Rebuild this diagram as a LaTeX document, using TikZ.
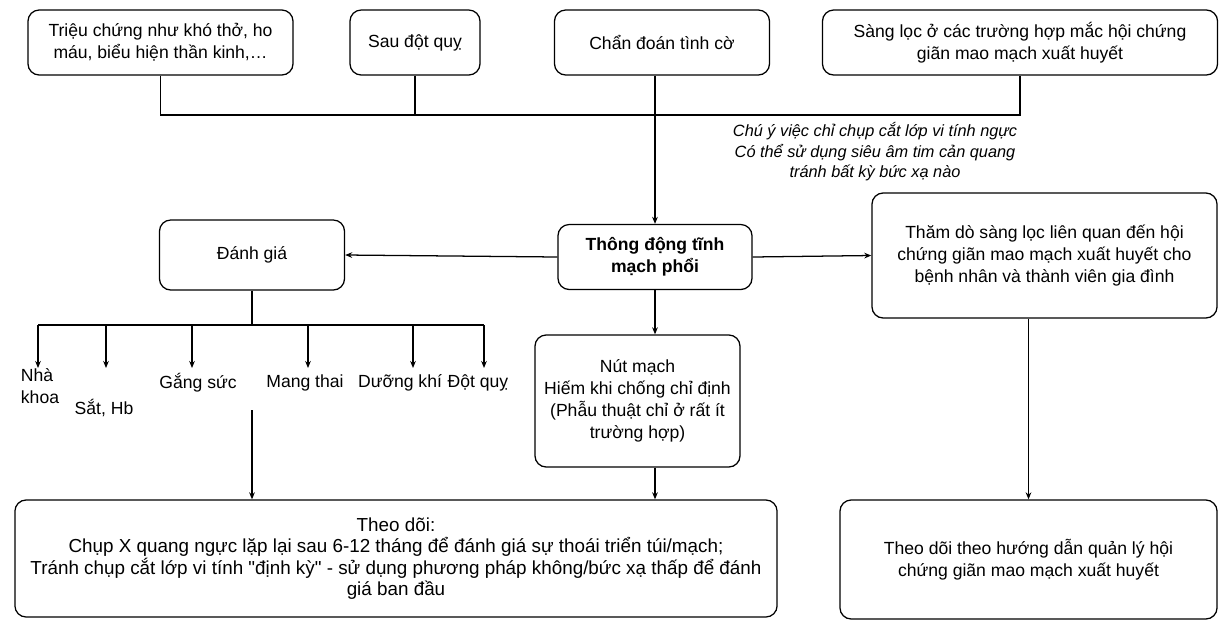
\documentclass[tikz,border=0pt]{standalone}
\usepackage{fontspec}
\setmainfont{Liberation Sans}[Ligatures=TeXOff]
\usetikzlibrary{arrows.meta, positioning, calc}

\begin{document}
\begin{tikzpicture}[x=0.025cm, y=-0.025cm, >=Stealth,
  box/.style={draw, line width=0.9pt, rounded corners=8pt, align=center,
    font=\fontsize{12.5}{15.5}\selectfont, inner sep=2pt},
  lbl/.style={align=left, font=\fontsize{12.5}{15.5}\selectfont, inner sep=1pt},
  link/.style={line width=0.9pt},
  arr/.style={->, line width=0.9pt, >={Stealth[length=5pt, width=4pt]}}]
  \useasboundingbox (0,0) rectangle (1219,621);

  % top row
  \node[box, minimum width=6.625cm, minimum height=1.625cm] (trieu) at (160.5,42.5)
    {Triệu chứng như khó thở, ho\\máu, biểu hiện thần kinh,…};
  \node[box, minimum width=3.25cm, minimum height=1.625cm] (sau) at (415,42.5) {Sau đột quỵ};
  \node[box, minimum width=5.375cm, minimum height=1.625cm] (chan) at (662,42.5) {Chẩn đoán tình cờ};
  \node[box, minimum width=9.875cm, minimum height=1.625cm] (sang) at (1020,42.5)
    {Sàng lọc ở các trường hợp mắc hội chứng\\giãn mao mạch xuất huyết};

  \node[box, minimum width=4.85cm, minimum height=1.625cm] (thong) at (655,257)
    {\bfseries Thông động tĩnh\\\bfseries mạch phổi};
  \node[box, minimum width=4.625cm, minimum height=1.75cm] (danh) at (252,255) {Đánh giá};
  \node[box, minimum width=8.625cm, minimum height=3.125cm] (tham) at (1044.5,255.5)
    {Thăm dò sàng lọc liên quan đến hội\\chứng giãn mao mạch xuất huyết cho\\bệnh nhân và thành viên gia đình};
  \node[box, minimum width=5.125cm, minimum height=3.3cm] (nut) at (637.5,401)
    {Nút mạch\\Hiếm khi chống chỉ định\\(Phẫu thuật chỉ ở rất ít\\trường hợp)};
  \node[box, minimum width=19.05cm, minimum height=2.925cm, font=\fontsize{13.4}{15.2}\selectfont] (theo) at (396,558.5)
    {Theo dõi:\\Chụp X quang ngực lặp lại sau 6-12 tháng để đánh giá sự thoái triển túi/mạch;\\Tránh chụp cắt lớp vi tính "định kỳ" - sử dụng phương pháp không/bức xạ thấp để đánh\\giá ban đầu};
  \node[box, minimum width=9.425cm, minimum height=2.975cm] (hht) at (1028.5,559.5)
    {Theo dõi theo hướng dẫn quản lý hội\\chứng giãn mao mạch xuất huyết};

  \node[font=\itshape\fontsize{11.6}{14.5}\selectfont, align=center] (note) at (875,152)
    {Chú ý việc chỉ chụp cắt lớp vi tính ngực\\Có thể sử dụng siêu âm tim cản quang\\tránh bất kỳ bức xạ nào};

  % merge of the top row
  \coordinate (join) at (655,115);
  \draw[link] (trieu.south) -- (trieu.south |- join) -- (sang.south |- join) -- (sang.south);
  \draw[link] (sau.south) -- (sau.south |- join);
  \draw[arr] (thong.north |- chan.south) -- (thong.north);

  \draw[arr] (thong.west) -- (danh.east);
  \draw[arr] (thong.east) -- (tham.west);
  \draw[arr] (thong.south) -- (thong.south |- nut.north);
  \draw[arr] (thong.south |- nut.south) -- (thong.south |- theo.north);
  \draw[arr] (hht.north |- tham.south) -- (hht.north);

  % assessments
  \coordinate (bus) at (252,325);
  \draw[link] (danh.south) -- (bus);
  \foreach \n/\ax/\lx/\ly/\t in {nha/38/40/386/{Nhà\\khoa}, sat/106/104/408/{Sắt, Hb},
      gang/192/198/383/{Gắng sức}, mang/308/305/383/{Mang thai}, duong/413/400/383/{Dưỡng khí},
      dot/484/478/383/{Đột quỵ}} {
    \node[lbl] (\n) at (\lx,\ly) {\t};
    \coordinate (\n-tip) at (\ax,368);
    \draw[arr] (\n-tip |- bus) -- (\n-tip);
  }
  \draw[link] (nha-tip |- bus) -- (dot-tip |- bus);
  \coordinate (gap) at (252,410);
  \draw[arr] (gap) -- (gap |- theo.north);
\end{tikzpicture}
\end{document}
